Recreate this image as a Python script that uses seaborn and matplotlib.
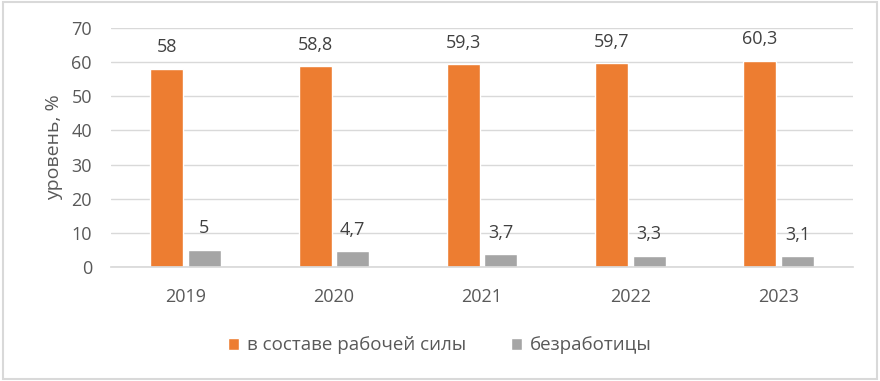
import matplotlib
matplotlib.use("Agg")
import matplotlib.pyplot as plt
import seaborn as sns
import pandas as pd
from matplotlib.patches import Rectangle

years = ["2019", "2020", "2021", "2022", "2023"]
labor_force = [58, 58.8, 59.3, 59.7, 60.3]
unemployment = [5, 4.7, 3.7, 3.3, 3.1]
series_names = ["в составе рабочей силы", "безработицы"]
colors = ["#ED7D31", "#A5A5A5"]

df = pd.DataFrame({
    "year": years * 2,
    "value": labor_force + unemployment,
    "series": [series_names[0]] * len(years) + [series_names[1]] * len(years),
})

sns.set_theme(style="white")
plt.rcParams["font.family"] = ["Open Sans", "DejaVu Sans"]

fig = plt.figure(figsize=(8.8, 3.81), dpi=100)
ax = fig.add_axes([0.1266, 0.299, 0.8424, 0.628])

sns.barplot(data=df, x="year", y="value", hue="series", palette=colors,
            width=0.506, gap=0.12, ax=ax, saturation=1, legend=True)

ax.set_xlim(-0.5, 4.5)
ax.set_ylim(0, 70)
ax.set_yticks(range(0, 71, 10))
ax.yaxis.grid(True, color="#D9D9D9", linewidth=1)
ax.set_axisbelow(True)
for s in ["top", "right", "left"]:
    ax.spines[s].set_visible(False)
ax.spines["bottom"].set_color("#D9D9D9")
ax.tick_params(axis="both", colors="#595959", labelsize=13, length=0)
ax.tick_params(axis="x", pad=15)
ax.tick_params(axis="y", pad=14)
ax.set_xlabel("")
ax.set_ylabel("уровень, %", fontsize=14, color="#595959", labelpad=6)

def fmt(v):
    s = f"{v:g}"
    return s.replace(".", ",")

for cont in ax.containers:
    ax.bar_label(cont, labels=[fmt(b.get_height()) for b in cont],
                 padding=9, fontsize=13, color="#404040")

handles, labels = ax.get_legend_handles_labels()
ax.get_legend().remove()
leg = fig.legend(handles, labels, loc="center", bbox_to_anchor=(0.5, 0.094), ncol=2,
                 frameon=False, fontsize=13.5, handlelength=0.6, handleheight=0.6,
                 handletextpad=0.4, columnspacing=2.4)
for t in leg.get_texts():
    t.set_color("#595959")

fig.patches.append(Rectangle((0.003, 0.005), 0.994, 0.99, transform=fig.transFigure,
                             fill=False, edgecolor="#D9D9D9", linewidth=1.5))

fig.savefig("out.png", dpi=100)
